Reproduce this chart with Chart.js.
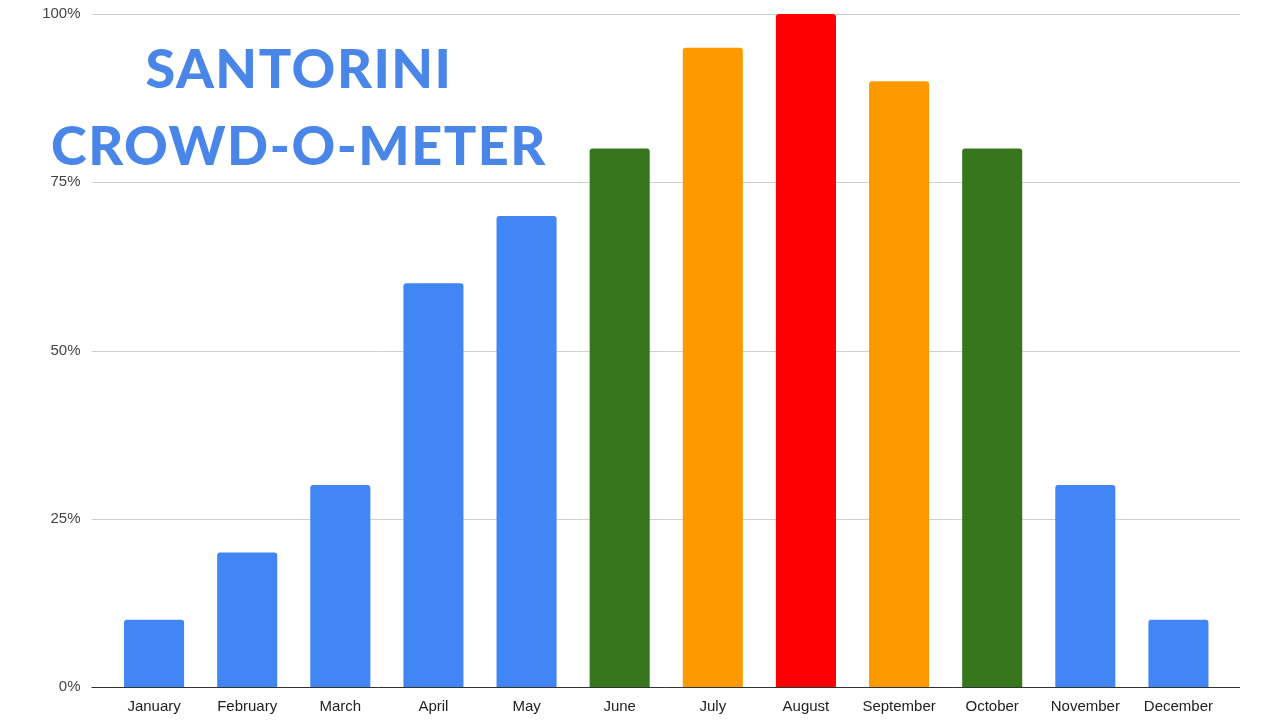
<!DOCTYPE html>
<html>
<head>
<meta charset="utf-8">
<script src="https://cdn.jsdelivr.net/npm/chart.js@4"></script>
<style>
  html, body { margin: 0; padding: 0; background: #fff; }
  #wrap { position: relative; width: 1280px; height: 720px; }
  #title {
    position: absolute; left: 0; width: 598px; top: 29px;
    text-align: center; color: #4a86e8;
    font-family: Lato, "Open Sans", sans-serif; font-weight: 900;
    font-size: 54px; line-height: 77px; letter-spacing: 1.5px;
  }
</style>
</head>
<body>
<div id="wrap">
  <canvas id="crowdChart" width="1280" height="720"></canvas>
  <div id="title">SANTORINI<br>CROWD-O-METER</div>
</div>
<script>
const months = ['January', 'February', 'March', 'April', 'May', 'June', 'July', 'August', 'September', 'October', 'November', 'December'];
const crowdLevels = [10, 20, 30, 60, 70, 80, 95, 100, 90, 80, 30, 10];
const barColors = ['#4285f4', '#4285f4', '#4285f4', '#4285f4', '#4285f4', '#38761d', '#ff9900', '#ff0000', '#ff9900', '#38761d', '#4285f4', '#4285f4'];
const yTicks = [0, 25, 50, 75, 100];

// grid lines a bit wider than the plot area, like the sheet export
const gridPlugin = {
  id: 'wideGrid',
  beforeDatasetsDraw(chart) {
    const { ctx, chartArea, scales } = chart;
    const left = chartArea.left - 16;
    const right = chartArea.right + 15;
    ctx.save();
    yTicks.forEach((t) => {
      const y = Math.round(scales.y.getPixelForValue(t)) + 0.5;
      ctx.strokeStyle = t === 0 ? '#333333' : '#d0d0d0';
      ctx.lineWidth = 1;
      ctx.beginPath();
      ctx.moveTo(left, y);
      ctx.lineTo(right, y);
      ctx.stroke();
    });
    ctx.restore();
  },
};

const ctx = document.getElementById('crowdChart').getContext('2d');
new Chart(ctx, {
  type: 'bar',
  data: {
    labels: months,
    datasets: [
      {
        data: crowdLevels,
        backgroundColor: barColors,
        borderRadius: { topLeft: 3, topRight: 3 },
        borderSkipped: 'bottom',
        categoryPercentage: 1,
        barPercentage: 0.645,
      },
    ],
  },
  options: {
    responsive: false,
    animation: false,
    layout: { padding: { top: 14, right: 55, left: 0, bottom: 0 } },
    plugins: { legend: { display: false }, tooltip: { enabled: false } },
    scales: {
      x: {
        grid: { display: false, drawTicks: false },
        border: { display: false },
        ticks: {
          padding: 11,
          color: '#222',
          font: { family: 'Arial, "Liberation Sans", sans-serif', size: 15 },
          maxRotation: 0,
          autoSkip: false,
        },
        afterFit: (s) => { s.height = 33; s.paddingLeft = 0; s.paddingRight = 0; },
      },
      y: {
        min: 0,
        max: 100,
        afterBuildTicks: (s) => { s.ticks = yTicks.map((v) => ({ value: v })); },
        grid: { display: false, drawTicks: false },
        border: { display: false },
        ticks: {
          padding: 27,
          color: '#444',
          font: { family: 'Arial, "Liberation Sans", sans-serif', size: 15 },
          callback: (v) => v + '%',
        },
        afterFit: (s) => { s.width = 107.5; s.paddingTop = 0; s.paddingBottom = 0; },
      },
    },
  },
  plugins: [gridPlugin],
});
</script>
</body>
</html>
